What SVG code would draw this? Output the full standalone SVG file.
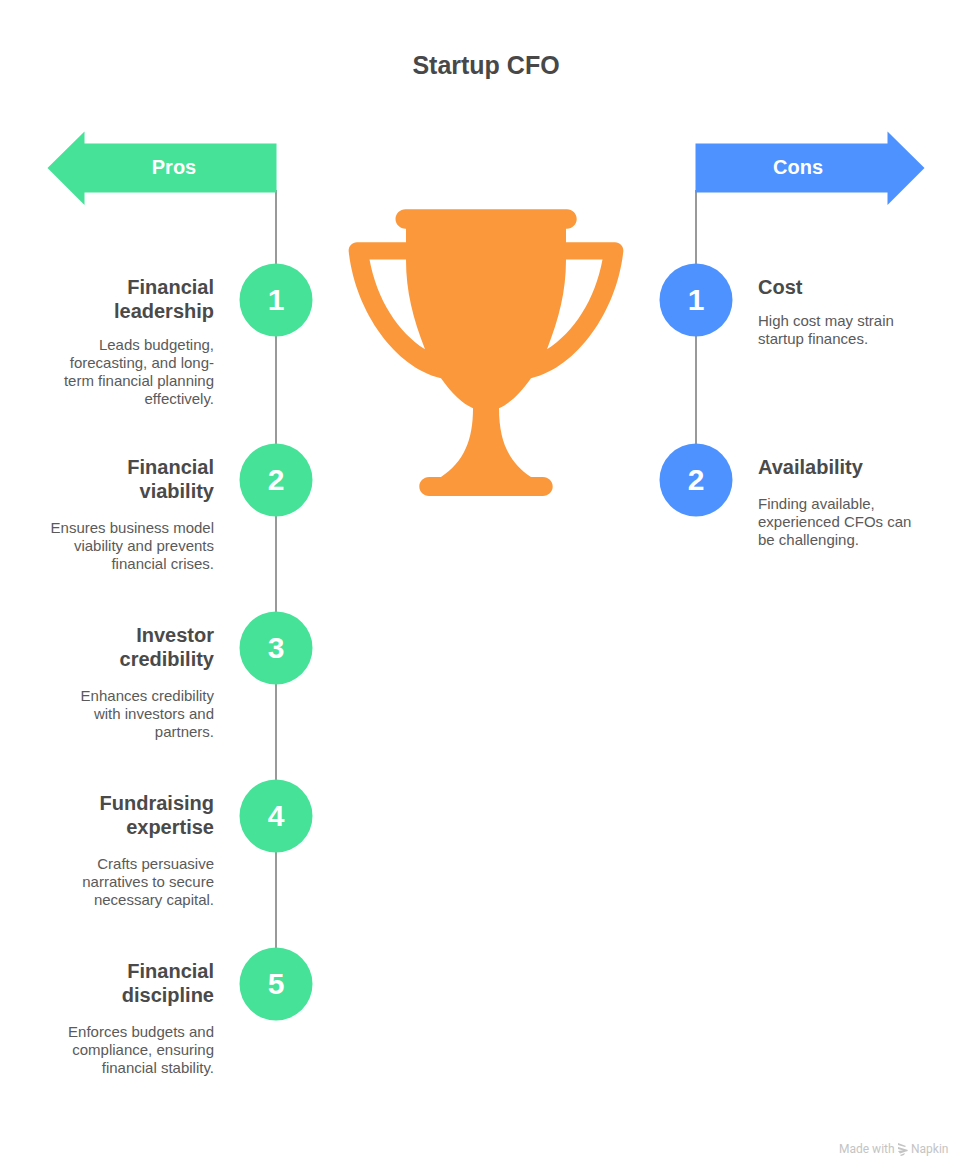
<svg xmlns="http://www.w3.org/2000/svg" width="972" height="1176" viewBox="0 0 972 1176">
<style>
text{font-family:"Liberation Sans",Arial,sans-serif}
.title{font-size:25px;font-weight:700;fill:#484848;text-anchor:middle}
.band{font-size:20px;font-weight:700;fill:#fff;text-anchor:middle}
.num{font-size:30px;font-weight:700;fill:#fff;text-anchor:middle}
.h{font-size:20px;font-weight:700;fill:#4a4a4a}
.b{font-size:15px;fill:#5a5a5a}
.l{text-anchor:end}
.line{stroke:#999;stroke-width:2;fill:none}
.g{fill:#45E298}
.bl{fill:#4D92FF}
.wm{font-size:12px;fill:#c4c4c4;font-family:Roboto,"Liberation Sans",sans-serif}
</style>
<rect width="972" height="1176" fill="#fff"/>
<text class="title" x="486" y="74">Startup CFO</text>
<g id="connectors">
<line class="line" x1="276" y1="190" x2="276" y2="984"/>
<line class="line" x1="696" y1="190" x2="696" y2="480"/>
</g>
<g id="pros-header"><path class="g" d="M276.500 143.500V192.500H84.500V205L47.500 168L84.500 131.500V143.500Z"/><text class="band" x="174" y="174">Pros</text></g>
<g id="cons-header"><path class="bl" d="M695.500 143.500V192.500H887.500V205L924.500 168L887.500 131.500V143.500Z"/><text class="band" x="798" y="174">Cons</text></g>
<g id="trophy"><path fill="#FB983B" fill-rule="evenodd" d="M405.500 209.300H566.500H567C572.300 209.300 576.700 213.600 576.700 219C576.700 224.400 572.300 228.700 567 228.700H566V242.300H615C620 242.300 623.800 246.500 623.300 251.500C617 310 578 367 531 378.300C520 394 509 404 499 408.300C499 440 508 462 531 477H543C548.300 477 552.700 481.300 552.700 486.500C552.700 491.700 548.300 496 543 496H429C423.700 496 419.300 491.700 419.300 486.500C419.300 481.300 423.700 477 429 477H441C464 462 473 440 473 408.300C463 404 452 394 441 378.300C394 367 355 310 348.700 251.500C348.200 246.500 352 242.300 357 242.300H406V228.700H405.500C400 228.700 395.500 224.400 395.500 219C395.500 213.600 400 209.300 405.500 209.300ZM369.500 259.500C377 300 398 332 425 349.300C413 318 406 292 406 259.500ZM602.500 259.500H566C566 292 559 318 547 349.300C574 332 595 300 602.500 259.500Z"/></g>
<g id="pro-1"><circle class="g" cx="276" cy="300" r="36.500"/><text class="num" x="276" y="310">1</text><text class="h l" x="214" y="294">Financial</text><text class="h l" x="214" y="318">leadership</text><text class="b l" x="214" y="350">Leads budgeting,</text><text class="b l" x="214" y="368">forecasting, and long-</text><text class="b l" x="214" y="386">term financial planning</text><text class="b l" x="214" y="404">effectively.</text></g>
<g id="pro-2"><circle class="g" cx="276" cy="480" r="36.500"/><text class="num" x="276" y="490">2</text><text class="h l" x="214" y="474">Financial</text><text class="h l" x="214" y="498">viability</text><text class="b l" x="214" y="533">Ensures business model</text><text class="b l" x="214" y="551">viability and prevents</text><text class="b l" x="214" y="569">financial crises.</text></g>
<g id="pro-3"><circle class="g" cx="276" cy="648" r="36.500"/><text class="num" x="276" y="658">3</text><text class="h l" x="214" y="642">Investor</text><text class="h l" x="214" y="666">credibility</text><text class="b l" x="214" y="701">Enhances credibility</text><text class="b l" x="214" y="719">with investors and</text><text class="b l" x="214" y="737">partners.</text></g>
<g id="pro-4"><circle class="g" cx="276" cy="816" r="36.500"/><text class="num" x="276" y="826">4</text><text class="h l" x="214" y="810">Fundraising</text><text class="h l" x="214" y="834">expertise</text><text class="b l" x="214" y="869">Crafts persuasive</text><text class="b l" x="214" y="887">narratives to secure</text><text class="b l" x="214" y="905">necessary capital.</text></g>
<g id="pro-5"><circle class="g" cx="276" cy="984" r="36.500"/><text class="num" x="276" y="994">5</text><text class="h l" x="214" y="978">Financial</text><text class="h l" x="214" y="1002">discipline</text><text class="b l" x="214" y="1037">Enforces budgets and</text><text class="b l" x="214" y="1055">compliance, ensuring</text><text class="b l" x="214" y="1073">financial stability.</text></g>
<g id="con-1"><circle class="bl" cx="696" cy="300" r="36.500"/><text class="num" x="696" y="310">1</text><text class="h" x="758" y="294">Cost</text><text class="b" x="758" y="326">High cost may strain</text><text class="b" x="758" y="344">startup finances.</text></g>
<g id="con-2"><circle class="bl" cx="696" cy="480" r="36.500"/><text class="num" x="696" y="490">2</text><text class="h" x="758" y="474">Availability</text><text class="b" x="758" y="509">Finding available,</text><text class="b" x="758" y="527">experienced CFOs can</text><text class="b" x="758" y="545">be challenging.</text></g>
<g id="watermark"><text class="wm" x="839" y="1153">Made with</text><path fill="#c4c4c4" d="M898 1143l8 3-1 1-7-2zM898 1147l10 3-1 1.500-9-2.500zM898 1151l8-1 0 1.500-6 2zM900 1155l5-2-1 2-3 1z"/><text class="wm" x="911" y="1153">Napkin</text></g>
</svg>
